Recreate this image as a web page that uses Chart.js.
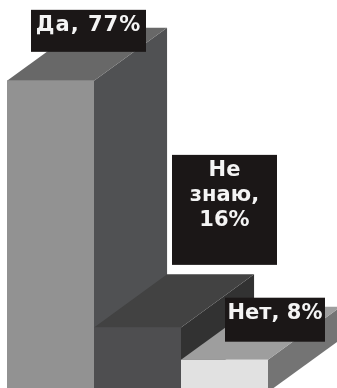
<!DOCTYPE html>
<html>
<head>
<meta charset="utf-8">
<script src="https://cdn.jsdelivr.net/npm/chart.js@4.4.0/dist/chart.umd.min.js"></script>
<style>
  html, body { margin: 0; padding: 0; background: #ffffff; }
  #wrap { width: 337px; height: 388px; position: relative; overflow: hidden; }
</style>
</head>
<body>
<div id="wrap"><canvas id="c" width="337" height="388"></canvas></div>
<script>
// Survey answers and their shares, in percent
const categories = ['Да', 'Не знаю', 'Нет'];
const shares = [77, 16, 8];

// Shading of each block: front, top and right-hand faces
const frontColors = ['#929292', '#4e4e50', '#e1e1e1'];
const topColors = ['#686868', '#424242', '#9e9e9e'];
const sideColors = ['#505153', '#323232', '#747474'];

// Callout boxes, placed relative to the front-top centre of each block
const callouts = [
  { dx: -19.5, dy: -71, w: 115, h: 42, wrap: false, spacing: '1px' },
  { dx: 34.5, dy: -172.5, w: 105, h: 110, wrap: true, spacing: '0px' },
  { dx: 0.5, dy: -62, w: 100, h: 44, wrap: false, spacing: '0px' }
];

// Receding depth of the blocks, as a fraction of the bar width
const DEPTH_X = 0.84;
const DEPTH_Y = 0.61;

function poly(ctx, pts, color) {
  ctx.beginPath();
  ctx.moveTo(pts[0][0], pts[0][1]);
  for (let i = 1; i < pts.length; i++) ctx.lineTo(pts[i][0], pts[i][1]);
  ctx.closePath();
  ctx.fillStyle = color;
  ctx.fill();
}

const blocks3d = {
  id: 'blocks3d',
  afterDatasetsDraw(chart) {
    const ctx = chart.ctx;
    const meta = chart.getDatasetMeta(0);
    const yScale = chart.scales.y;
    const floor = yScale.getPixelForValue(0);
    ctx.save();
    // Blocks are painted left to right so each one hides the side of the previous one
    meta.data.forEach((bar, i) => {
      const p = bar.getProps(['x', 'y', 'width'], true);
      const l = p.x - p.width / 2, r = p.x + p.width / 2, t = p.y;
      const dx = p.width * DEPTH_X, dy = p.width * DEPTH_Y;
      poly(ctx, [[r, t], [r + dx, t - dy], [r + dx, floor - dy], [r, floor]], sideColors[i]);
      poly(ctx, [[l, t], [r, t], [r + dx, t - dy], [l + dx, t - dy]], topColors[i]);
      poly(ctx, [[l, t], [r, t], [r, floor], [l, floor]], frontColors[i]);
    });
    // Value callouts
    ctx.font = 'bold 21px "DejaVu Sans", Verdana, sans-serif';
    ctx.textAlign = 'center';
    ctx.textBaseline = 'alphabetic';
    meta.data.forEach((bar, i) => {
      const p = bar.getProps(['x', 'y'], true);
      const c = callouts[i];
      const bx = p.x + c.dx, by = p.y + c.dy;
      ctx.fillStyle = '#1b1717';
      ctx.fillRect(bx, by, c.w, c.h);
      const text = categories[i] + ', ' + shares[i] + '%';
      const lines = c.wrap ? text.split(' ') : [text];
      ctx.fillStyle = '#f4f4f4';
      if ('letterSpacing' in ctx) ctx.letterSpacing = c.spacing;
      lines.forEach((ln, k) => {
        ctx.fillText(ln, bx + c.w / 2, by + 21 + k * 25);
      });
    });
    ctx.restore();
  }
};

new Chart(document.getElementById('c'), {
  type: 'bar',
  data: {
    labels: categories,
    datasets: [{
      data: shares,
      backgroundColor: frontColors,
      borderWidth: 0,
      barPercentage: 1,
      categoryPercentage: 1
    }]
  },
  options: {
    responsive: false,
    animation: false,
    devicePixelRatio: 1,
    layout: { padding: { left: 7, right: 69, top: 0, bottom: 0 } },
    plugins: { legend: { display: false }, tooltip: { enabled: false } },
    scales: {
      x: { display: false },
      y: { display: false, min: 1, max: 97 }
    }
  },
  plugins: [blocks3d]
});
</script>
</body>
</html>
